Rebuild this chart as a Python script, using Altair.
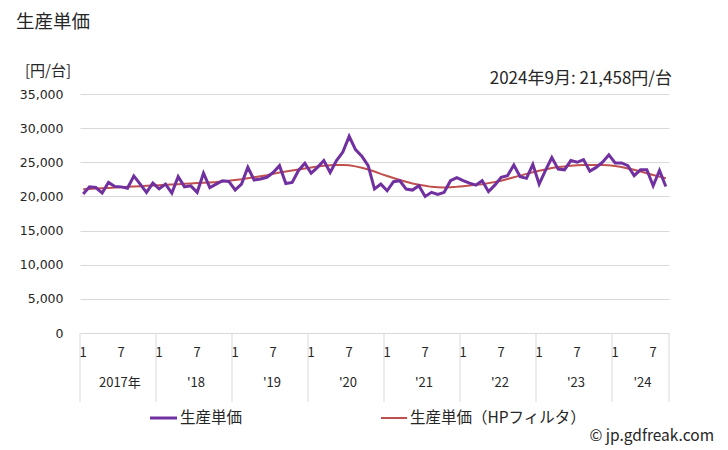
import altair as alt
import pandas as pd

# ---- data ----
unit_price = [
    20350, 21400, 21300, 20500, 22050, 21450, 21400, 21200, 23000, 21800, 20600, 21950,  # 2017
    21100, 21800, 20500, 22900, 21400, 21550, 20600, 23400, 21300, 21800, 22300, 22200,  # 2018
    20950, 21800, 24260, 22400, 22550, 22800, 23500, 24500, 21900, 22050, 23800, 24850,  # 2019
    23400, 24260, 25250, 23500, 25250, 26500, 28800, 26860, 25900, 24500, 21080, 21800,  # 2020
    20830, 22150, 22300, 21080, 20930, 21570, 20000, 20600, 20300, 20600, 22300, 22750,  # 2021
    22300, 21950, 21650, 22300, 20700, 21650, 22800, 23040, 24600, 22900, 22650, 24700,  # 2022
    21800, 23800, 25700, 24000, 23900, 25250, 25000, 25400, 23700, 24250, 25000, 26080,  # 2023
    24900, 24900, 24500, 23040, 23900, 23900, 21570, 23800, 21458,                       # 2024
]
hp_filter = [
    21050, 21100, 21150, 21200, 21250, 21300, 21350, 21400, 21450, 21500, 21550, 21600,
    21650, 21700, 21750, 21800, 21850, 21900, 21950, 22000, 22050, 22100, 22200, 22300,
    22400, 22500, 22650, 22800, 22950, 23100, 23300, 23500, 23650, 23800, 23950, 24100,
    24250, 24400, 24500, 24580, 24620, 24620, 24550, 24400, 24200, 23950, 23650, 23300,
    23000, 22700, 22400, 22150, 21900, 21700, 21550, 21400, 21350, 21320, 21350, 21400,
    21500, 21600, 21700, 21800, 21950, 22100, 22300, 22550, 22800, 23050, 23300, 23550,
    23750, 23950, 24150, 24300, 24400, 24500, 24550, 24600, 24620, 24620, 24600, 24550,
    24450, 24300, 24100, 23900, 23650, 23400, 23150, 22900, 22650,
]
year_labels = ["2017年", "'18", "'19", "'20", "'21", "'22", "'23", "'24"]
month_ticks = ["1", "7"]

FONT = "Noto Sans CJK JP"
NUMFONT = "DejaVu Sans"
PURPLE = "#7030a0"
RED = "#c0504d"
TXT = "#262626"
W, H = 589, 239

n = len(unit_price)
df_main = pd.DataFrame({"i": list(range(n)), "value": unit_price})
df_hp = pd.DataFrame({"i": list(range(n)), "value": hp_filter})

xscale = alt.Scale(domain=[-0.5, n - 0.5], nice=False, zero=False)
yscale = alt.Scale(domain=[0, 35000], nice=False)
yaxis = alt.Axis(values=list(range(0, 35001, 5000)),
                 labelExpr="format(datum.value, ',')",
                 labelFont=NUMFONT, labelFontSize=12.5, labelColor=TXT,
                 labelPadding=17, tickSize=0, domain=False,
                 gridColor="#d9d9d9", gridWidth=1)

hp_line = alt.Chart(df_hp).mark_line(color=RED, strokeWidth=2).encode(
    x=alt.X("i:Q", scale=xscale, axis=None),
    y=alt.Y("value:Q", scale=yscale, title=None, axis=yaxis),
)
main_line = alt.Chart(df_main).mark_line(color=PURPLE, strokeWidth=3).encode(
    x=alt.X("i:Q", scale=xscale, axis=None),
    y=alt.Y("value:Q", scale=yscale, title=None, axis=yaxis),
)

# x-axis: month tick labels and year labels
tick_rows = []
for y_idx in range(len(year_labels)):
    for m, lab in zip([0, 6], month_ticks):
        idx = y_idx * 12 + m
        if idx < n:
            tick_rows.append({"i": idx, "lab": lab})
ticks_df = pd.DataFrame(tick_rows)
month_text = alt.Chart(ticks_df).mark_text(
    font=FONT, fontSize=13, color=TXT, baseline="middle", align="center"
).encode(x=alt.X("i:Q", scale=xscale, axis=None), y=alt.value(H + 20), text="lab:N")

year_rows = []
for k, lab in enumerate(year_labels):
    start = k * 12 - 0.5
    end = min(k * 12 + 11.5, n - 0.5)
    year_rows.append({"i": (start + end) / 2 + 0.3, "lab": lab})
year_df = pd.DataFrame(year_rows)
year_text = alt.Chart(year_df).mark_text(
    font=FONT, fontSize=13, color=TXT, baseline="middle", align="center"
).encode(x=alt.X("i:Q", scale=xscale, axis=None), y=alt.value(H + 50), text="lab:N")

sep_df = pd.DataFrame({"i": [k * 12 - 0.5 for k in range(len(year_labels))] + [n - 0.5]})
separators = alt.Chart(sep_df).mark_rule(color="#d9d9d9", strokeWidth=1).encode(
    x=alt.X("i:Q", scale=xscale, axis=None), y=alt.value(H), y2=alt.value(H + 69))

# titles and annotations
def label(txt, x, y, size, align="left", color=TXT):
    return alt.Chart(pd.DataFrame({"t": [txt]})).mark_text(
        font=FONT, fontSize=size, align=align, baseline="middle", color=color
    ).encode(x=alt.value(x), y=alt.value(y), text="t:N")

title = label("生産単価", -64, -72, 18.5)
unit = label("[円/台]", -55, -23, 15)
annot = label("2024年9月: 21,458円/台", W + 3, -15, 17, align="right")
credit = label("© jp.gdfreak.com", W + 45, H + 103, 15.5, align="right")

# legend
leg1_line = alt.Chart(pd.DataFrame({"t": [0]})).mark_rule(color=PURPLE, strokeWidth=3).encode(
    x=alt.value(70), x2=alt.value(97), y=alt.value(H + 85))
leg1_txt = label("生産単価", 100, H + 85, 15.5)
leg2_line = alt.Chart(pd.DataFrame({"t": [0]})).mark_rule(color=RED, strokeWidth=2).encode(
    x=alt.value(301), x2=alt.value(327), y=alt.value(H + 85))
leg2_txt = label("生産単価（HPフィルタ）", 330, H + 85, 15.5)

chart = alt.layer(
    separators, hp_line, main_line, month_text, year_text,
    title, unit, annot, credit, leg1_line, leg1_txt, leg2_line, leg2_txt,
).properties(
    width=W, height=H,
    background="white",
    autosize=alt.AutoSizeParams(type="none"),
    padding={"left": 80, "top": 94, "right": 728 - 80 - W, "bottom": 450 - 94 - H},
).configure_view(strokeWidth=0)

chart.save("out.html", embed_options={"renderer": "svg", "actions": False})
